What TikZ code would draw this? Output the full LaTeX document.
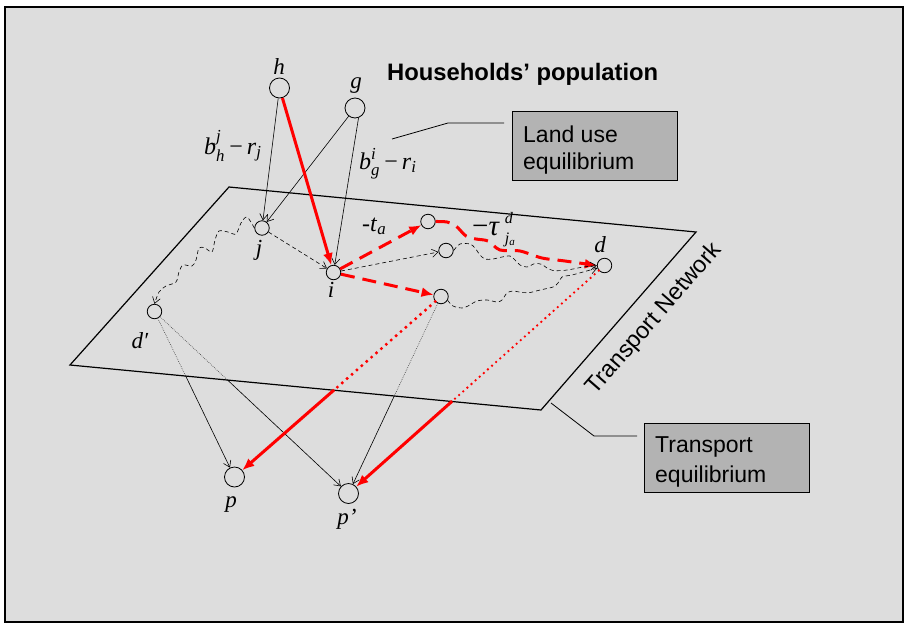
\documentclass[tikz,border=0pt]{standalone}
\usepackage{amsmath}
\usepackage{fontspec}
\setmainfont{Liberation Serif}
\setsansfont{Liberation Sans}
\usetikzlibrary{arrows.meta,calc}
\definecolor{bg}{HTML}{DDDDDD}
\definecolor{boxgray}{HTML}{B3B3B3}
\definecolor{myred}{HTML}{FF0000}
\begin{document}
\begin{tikzpicture}[x=1pt,y=-1pt,
  big/.style={circle,draw,line width=0.8pt,minimum size=20pt,inner sep=0pt},
  small/.style={circle,draw,line width=0.8pt,minimum size=14.5pt,inner sep=0pt},
  lbl/.style={font=\fontsize{23}{23}\selectfont\itshape,inner sep=0pt,anchor=base},
  mlbl/.style={font=\fontsize{24}{24}\selectfont,inner sep=0pt,anchor=base west},
  blk/.style={line width=0.6pt,-{Straight Barb[length=6pt,width=8pt]}},
  blkdash/.style={blk,dash pattern=on 4pt off 3pt},
  redthick/.style={myred,line width=3pt,-{Latex[length=12pt,width=10pt]}},
  reddash/.style={redthick,dash pattern=on 14pt off 8pt},
  reddot/.style={myred,line width=3.4pt,line cap=round,dash pattern=on 0pt off 6.5pt},
  reddotthin/.style={myred,line width=2.6pt,line cap=round,dash pattern=on 0pt off 5.5pt},
  graydot/.style={line width=0.6pt,black!75,dash pattern=on 0.7pt off 1.2pt},
  boxstyle/.style={draw,line width=0.9pt,fill=boxgray,minimum width=165pt,minimum height=69pt,inner sep=0pt},
  boxtext/.style={font=\sffamily\fontsize{23}{27}\selectfont,inner sep=0pt,anchor=base west},
  callout/.style={line width=0.8pt}
]
\useasboundingbox (0,0) rectangle (904,624);
\fill[white] (0,0) rectangle (904,624);
\draw[line width=2pt,fill=bg] (5,7) rectangle (903,622);

% plane
\draw[line width=1.2pt] (229,187) -- (696,232) -- (541,410) -- (70,365) -- cycle;

% title
\node[font=\sffamily\bfseries\fontsize{23.8}{28}\selectfont,inner sep=0pt,anchor=base west] (title) at (387,80) {Households’ population};

% boxes
\node[boxstyle] (lu) at (594.5,145.5) {};
\node[boxtext] (lut1) at (523,142) {Land use};
\node[boxtext] (lut2) at (523,169) {equilibrium};
\node[boxstyle] (te) at (726.5,457.5) {};
\node[boxtext] (tet1) at (655,452) {Transport};
\node[boxtext] (tet2) at (655,482) {equilibrium};

\coordinate (c1a) at (392,139);
\coordinate (c1b) at (448,123);
\coordinate (c1c) at (504,123);
\draw[callout] (c1a) -- (c1b) -- (c1c);
\coordinate (c2a) at (551,403);
\coordinate (c2b) at (594,436);
\coordinate (c2c) at (637,436);
\draw[callout] (c2a) -- (c2b) -- (c2c);

% network label
\node[rotate=49,anchor=base,font=\sffamily\fontsize{23.5}{28}\selectfont,inner sep=0pt] (tn) at (659,323) {Transport Network};

% nodes
\node[big] (h) at (279.5,88) {};
\node[big] (g) at (355,108) {};
\node[small] (j) at (262,228) {};
\node[small] (i) at (333.5,272.5) {};
\node[small] (a1) at (428,221.5) {};
\node[small] (a2) at (446,250.5) {};
\node[small] (a3) at (441,296.5) {};
\node[small] (d) at (604.5,265.5) {};
\node[small] (dp) at (154.5,311.5) {};
\node[big] (p) at (234.5,477) {};
\node[big] (pp) at (348.5,493.5) {};

% labels
\node[lbl] at (279,74) {h};
\node[lbl] at (356,88) {g};
\node[lbl] at (259,255) {j};
\node[lbl] at (331,297) {i};
\node[lbl] at (600,252) {d};
\node[lbl] at (140,348) {d′};
\node[lbl] at (231,507) {p};
\node[lbl] at (347,524) {p’};

\node[mlbl] at (204,154) {$\textit{b}^{\textit{j}}_{\textit{h}}\,\textup{−}\,\textit{r}_{\textit{j}}$};
\node[mlbl] at (359,169) {$\textit{b}^{\textit{i}}_{\textit{g}}\,\textup{−}\,\textit{r}_{\textit{i}}$};
\node[mlbl] at (362,231) {-\textit{t}$_{\textit{a}}$};
\node[mlbl] at (472,235) {{\fontsize{29}{29}\selectfont −\textit{τ}}\hspace{5pt}\rlap{\raisebox{12pt}{\fontsize{16}{16}\selectfont\textit{d}}}\raisebox{-8pt}{\fontsize{16}{16}\selectfont\textit{j}\raisebox{-2.5pt}{\fontsize{11}{11}\selectfont\textit{a}}}};

% upper connectors
\draw[blk] (h) -- (j);
\draw[blk] (g) -- (j);
\draw[blk] (g.-70) -- (i);
\draw[redthick] (h) -- (i);
\draw[blkdash] (j) -- (i);
\draw[reddash] (i) -- (a1);
\draw[blkdash] (i) -- (a2);
\draw[reddash] (i) -- (a3);

\draw[reddash] plot[smooth,tension=0.5] coordinates {(a1.east) (447,222) (456,226) (466,236) (476,239) (488,241) (500,250) (520,251) (542,258) (565,261) (d.west)};
\draw[blkdash] plot[smooth,tension=0.5] coordinates {(a2.east) (460,244) (470,244) (475,248) (480,255) (485,259) (493,259) (502,257) (510,256) (515,260) (520,265) (527,267) (535,263.5) (542,264.5) (547,268) (553,270.5) (563,270.5) (573,269) (583,267) (d.west)};
\draw[blkdash] plot[smooth,tension=0.5] coordinates {(a3.-30) (453,306) (462,308) (468,306) (477,301) (487,300) (497,302) (502,300) (507,293) (513,291) (522,292.5) (530,292.5) (540,290) (553,287) (558,283) (562,277) (572,275) (583,272) (d.-160)};
\draw[blkdash] plot[smooth,tension=0.5] coordinates {(j.west) (247,217) (241,223) (236,234) (228,232) (219,231) (215,240) (212,252) (205,248) (199,248) (196,260) (192,266) (183,265) (179,272) (176,282) (166,286) (159,292) (dp.north)};

% lower connectors
\coordinate (x1) at ($(dp)!0.388!(p)$);
\coordinate (x2) at ($(dp)!0.376!(pp)$);
\coordinate (x3) at ($(a3)!0.5175!(p)$);
\coordinate (x4) at ($(d)!0.595!(pp)$);
\coordinate (x5) at ($(a3)!0.505!(pp)$);

\draw[graydot] (dp) -- (x1);
\draw[blk] (x1) -- (p);
\draw[graydot] (dp) -- (x2);
\draw[blk] (x2) -- (pp);
\draw[graydot] (a3) -- (x5);
\draw[blk] (x5) -- (pp);
\draw[reddot] (a3) -- (x3);
\draw[redthick] (x3) -- (p);
\draw[reddotthin] (d) -- (x4);
\draw[redthick] (x4) -- (pp);
\end{tikzpicture}
\end{document}
